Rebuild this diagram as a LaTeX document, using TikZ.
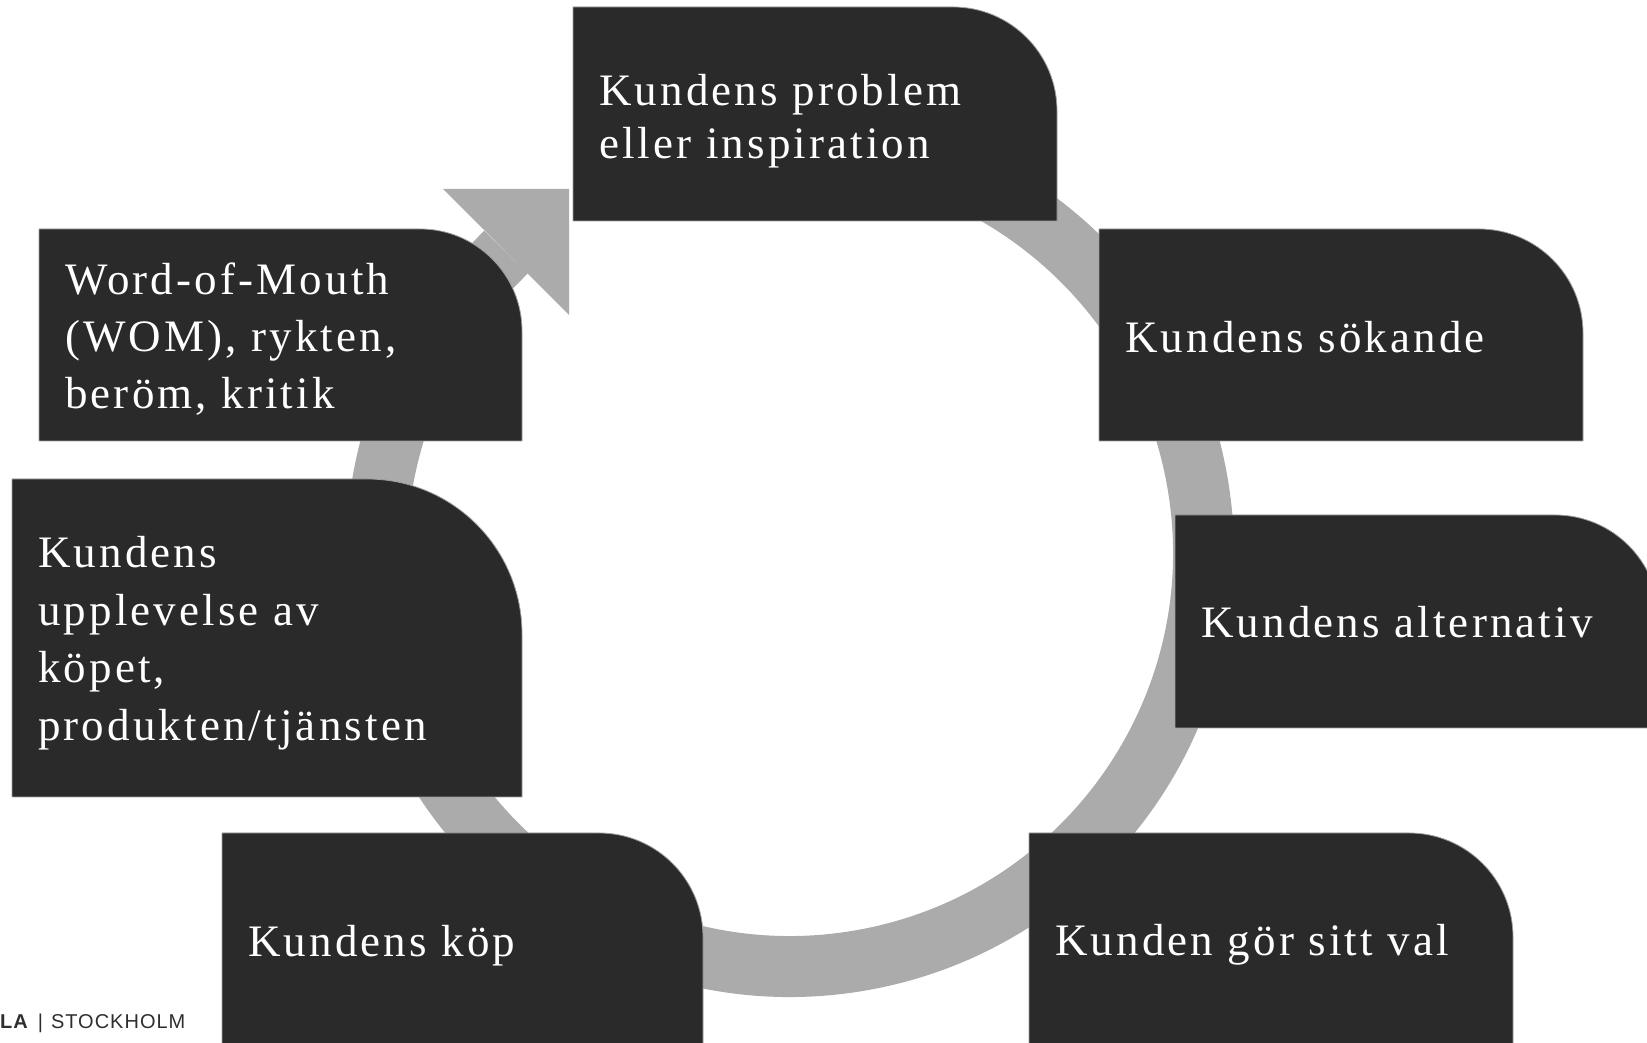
\documentclass[tikz,border=0pt]{standalone}
\usepackage{fontspec}
\setmainfont{Liberation Serif}[LetterSpace=7]
\newfontfamily\logofont{Liberation Sans}[LetterSpace=5]
\definecolor{boxgray}{HTML}{2A2A2A}
\definecolor{ringgray}{HTML}{ABABAB}
\definecolor{logogray}{HTML}{2E2E2E}
\tikzset{stagebox/.style={fill=boxgray, draw=gray!75, line width=0.8pt}}
\tikzset{stagetext/.style={anchor=base west, inner xsep=26pt, inner ysep=0pt,
    align=left, text=white, font=\fontsize{45}{57}\selectfont}}
\tikzset{cyclering/.style={draw=ringgray, line width=61pt}}

\begin{document}
\begin{tikzpicture}[x=1pt, y=1pt]
    \useasboundingbox (0,0) rectangle (1647,1043);
    \clip (0,0) rectangle (1647,1043);
    \coordinate (hub) at (790,490);
    \draw[cyclering] (hub) ++(100:413.5) arc[start angle=100, end angle=-225, radius=413.5] -- (506,791);
    \fill[ringgray] (443,854) -- (569,854) -- (569,728) -- cycle;
    \draw[stagebox] (573,822) -- (573,1036) -- (953,1036) arc[start angle=90, end angle=0, radius=104] -- (1057,822) -- cycle;
    \draw[stagebox] (1099,602) -- (1099,814) -- (1479,814) arc[start angle=90, end angle=0, radius=104] -- (1583,602) -- cycle;
    \draw[stagebox] (1175,315) -- (1175,528) -- (1555,528) arc[start angle=90, end angle=0, radius=104] -- (1659,315) -- cycle;
    \draw[stagebox] (1029,-5) -- (1029,210) -- (1409,210) arc[start angle=90, end angle=0, radius=104] -- (1513,-5) -- cycle;
    \draw[stagebox] (222,-5) -- (222,210) -- (599,210) arc[start angle=90, end angle=0, radius=104] -- (703,-5) -- cycle;
    \draw[stagebox] (12,246) -- (12,564) -- (367,564) arc[start angle=90, end angle=0, radius=155] -- (522,246) -- cycle;
    \draw[stagebox] (39,602) -- (39,814) -- (420,814) arc[start angle=90, end angle=0, radius=102] -- (522,602) -- cycle;
    \node[stagetext, font=\fontsize{45}{53}\selectfont] (problem) at (573,884) {Kundens problem\\eller inspiration};
    \node[stagetext] (search) at (1099,690) {Kundens sökande};
    \node[stagetext] (options) at (1175,405) {Kundens alternativ};
    \node[stagetext] (choice) at (1029,87) {Kunden gör sitt val};
    \node[stagetext] (purchase) at (222,86) {Kundens köp};
    \node[stagetext, font=\fontsize{45}{57.5}\selectfont] (experience) at (12,302.5) {Kundens\\upplevelse av\\köpet,\\produkten/tjänsten};
    \node[stagetext] (wom) at (39,634) {Word-of-Mouth\\(WOM), rykten,\\beröm, kritik};
    \node[anchor=base west, inner sep=0pt, text=logogray, font=\logofont\fontsize{20}{24}\selectfont] (logo) at (0,14) {\textbf{LA}\hspace{9pt}|\hspace{8pt}STOCKHOLM};
\end{tikzpicture}
\end{document}
